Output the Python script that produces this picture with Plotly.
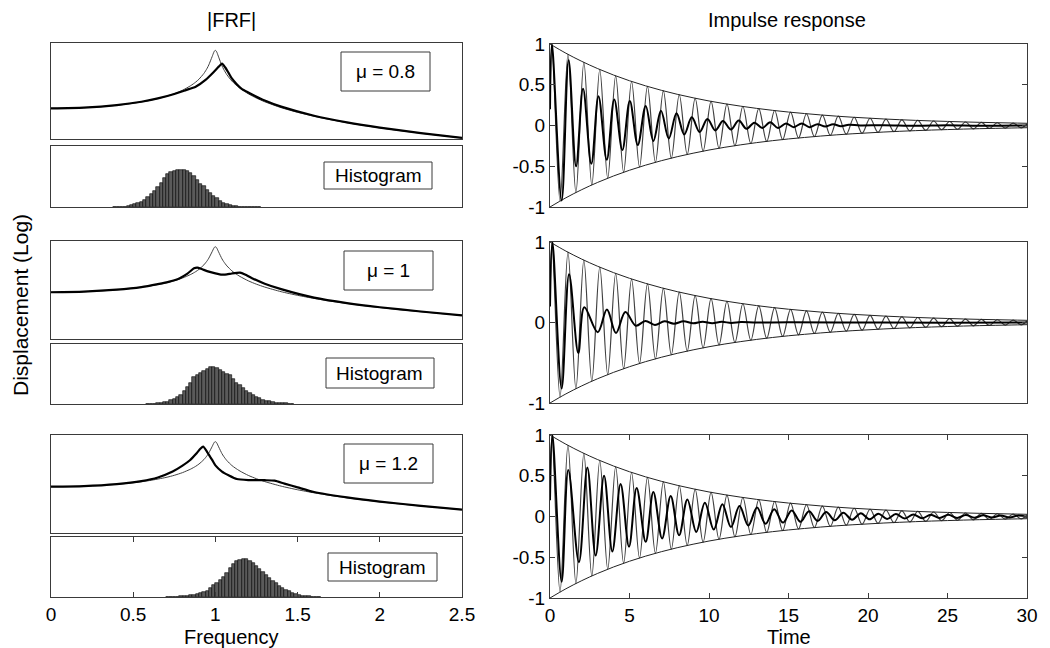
import plotly.graph_objects as go

# The page body adds an 8 px margin, so the figure is 8 px smaller and all
# reference pixel positions are shifted by OFF.
OFF = 8
W, H = 1050 - OFF, 648 - OFF

# ---------------- FRF data (log magnitude) ----------------
FRF_F_NOMINAL = [0, 0.1, 0.2, 0.3, 0.4, 0.5, 0.6, 0.7, 0.75, 0.8, 0.85, 0.88, 0.9, 0.93, 0.95, 0.96,
                 0.98, 0.99, 0.995, 1.0, 1.005, 1.01, 1.02, 1.04, 1.05, 1.07, 1.1, 1.12, 1.15, 1.2,
                 1.25, 1.3, 1.4, 1.5, 1.6, 1.7, 1.8, 1.9, 2.0, 2.1, 2.25, 2.4, 2.5]
FRF_V_NOMINAL = [1.0, 1.01, 1.042, 1.099, 1.19, 1.333, 1.563, 1.96, 2.286, 2.78, 3.60, 4.39, 5.18, 7.16,
                 9.62, 11.6, 18.4, 23.5, 25.6, 26.3, 25.3, 23.1, 17.9, 11.0, 9.09, 6.64, 4.67, 3.9, 3.10,
                 2.27, 1.78, 1.45, 1.04, 0.80, 0.641, 0.529, 0.446, 0.383, 0.333, 0.293, 0.246, 0.21, 0.19]

FRF_F_MU08 = [0, 0.2, 0.4, 0.55, 0.65, 0.75, 0.82, 0.88, 0.94, 0.99, 1.02, 1.04, 1.06, 1.08, 1.1,
              1.13, 1.16, 1.2, 1.3, 1.4, 1.6, 1.8, 2.0, 2.25, 2.5]
FRF_V_MU08 = [1.0, 1.045, 1.2, 1.45, 1.75, 2.25, 2.8, 3.4, 5.0, 7.8, 10.5, 12.4, 10.0, 7.4, 5.4,
              3.9, 3.0, 2.45, 1.55, 1.1, 0.66, 0.455, 0.338, 0.248, 0.19]

FRF_F_MU10 = [0, 0.2, 0.4, 0.55, 0.65, 0.72, 0.78, 0.83, 0.87, 0.89, 0.92, 0.96, 1.0, 1.04, 1.07,
              1.1, 1.15, 1.18, 1.22, 1.3, 1.4, 1.6, 1.8, 2.0, 2.25, 2.5]
FRF_V_MU10 = [1.0, 1.045, 1.2, 1.45, 1.8, 2.15, 2.7, 3.8, 5.6, 5.9, 5.2, 4.4, 3.9, 3.55, 3.6,
              3.85, 4.1, 3.6, 2.8, 1.85, 1.25, 0.68, 0.46, 0.34, 0.25, 0.19]

FRF_F_MU12 = [0, 0.2, 0.4, 0.55, 0.65, 0.74, 0.8, 0.845, 0.88, 0.91, 0.925, 0.95, 0.98, 1.0, 1.04,
              1.08, 1.13, 1.2, 1.3, 1.36, 1.42, 1.5, 1.6, 1.8, 2.0, 2.25, 2.5]
FRF_V_MU12 = [1.0, 1.045, 1.21, 1.5, 1.95, 3.0, 4.6, 6.8, 10.5, 16.0, 18.5, 12.4, 7.0, 4.7, 3.0,
              2.3, 1.75, 1.62, 1.6, 1.55, 1.25, 0.95, 0.68, 0.46, 0.34, 0.25, 0.19]

# ---------------- Histogram data (bin centres, counts) ----------------
HIST1_X = [0.39, 0.41, 0.43, 0.45, 0.47, 0.49, 0.51, 0.53, 0.55, 0.57, 0.59, 0.61, 0.63, 0.65, 0.67,
           0.69, 0.71, 0.73, 0.75, 0.77, 0.79, 0.81, 0.83, 0.85, 0.87, 0.89, 0.91, 0.93, 0.95, 0.97,
           0.99, 1.01, 1.03, 1.05, 1.07, 1.09, 1.11, 1.13, 1.15, 1.17, 1.19, 1.21, 1.23, 1.25, 1.27]
HIST1_Y = [1, 0.5, 1, 1, 3, 5, 8, 12, 16, 22, 30, 38, 48, 60, 72,
           88, 98, 104, 107, 110, 110, 110, 108, 102, 92, 82, 70, 62, 52, 42,
           34, 26, 18, 12, 8, 5, 3, 2, 1, 1, 1, 1, 1, 1, 1]

HIST2_X = [0.59, 0.61, 0.63, 0.65, 0.67, 0.69, 0.71, 0.73, 0.75, 0.77, 0.79, 0.81, 0.83, 0.85, 0.87,
           0.89, 0.91, 0.93, 0.95, 0.97, 0.99, 1.01, 1.03, 1.05, 1.07, 1.09, 1.11, 1.13, 1.15, 1.17,
           1.19, 1.21, 1.23, 1.25, 1.27, 1.29, 1.31, 1.33, 1.35, 1.37, 1.39, 1.41, 1.43, 1.45, 1.47]
HIST2_Y = [1, 1, 1, 2, 3, 5, 7, 11, 15, 21, 27, 40, 52, 64, 80,
           88, 93, 101, 106, 113, 111, 109, 104, 98, 92, 88, 76, 64, 58, 47,
           40, 32, 26, 21, 17, 13, 10, 8, 6, 4, 3, 2, 2, 1, 1]

HIST3_X = [0.71, 0.73, 0.75, 0.77, 0.79, 0.81, 0.83, 0.85, 0.87, 0.89, 0.91, 0.93, 0.95, 0.97, 0.99,
           1.01, 1.03, 1.05, 1.07, 1.09, 1.11, 1.13, 1.15, 1.17, 1.19, 1.21, 1.23, 1.25, 1.27, 1.29,
           1.31, 1.33, 1.35, 1.37, 1.39, 1.41, 1.43, 1.45, 1.47, 1.49, 1.51, 1.53, 1.55, 1.57, 1.59,
           1.61, 1.63]
HIST3_Y = [1, 1, 1, 1, 2, 3, 4, 6, 7, 9, 11, 14, 19, 27, 36,
           44, 51, 60, 72, 88, 102, 110, 114, 117, 116, 111, 105, 94, 84, 76,
           67, 58, 50, 42, 34, 28, 22, 17, 12, 9, 6, 4, 3, 2, 1,
           1, 1]

# ---------------- Impulse response data ----------------
IMP_T_NOMINAL = [0, 0.13, 0.63, 1.13, 1.63, 2.13, 2.63, 3.13, 3.63, 4.13, 4.63, 5.13, 5.63, 6.13, 6.63,
                 7.13, 7.63, 8.13, 8.63, 9.13, 9.63, 10.13, 10.63, 11.13, 11.63, 12.13, 12.63, 13.13,
                 13.63, 14.13, 14.63, 15.13, 15.63, 16.13, 16.63, 17.13, 17.63, 18.13, 18.63, 19.13,
                 19.63, 20.13, 20.63, 21.13, 21.63, 22.13, 22.63, 23.13, 23.63, 24.13, 24.63, 25.13,
                 25.63, 26.13, 26.63, 27.13, 27.63, 28.13, 28.63, 29.13, 29.63, 30]
IMP_V_NOMINAL = [0.3, 0.984, -0.927, 0.873, -0.822, 0.774, -0.729, 0.687, -0.647, 0.609, -0.574,
                 0.540, -0.509, 0.479, -0.451, 0.425, -0.400, 0.377, -0.355, 0.334, -0.315, 0.297,
                 -0.279, 0.263, -0.248, 0.233, -0.220, 0.207, -0.195, 0.184, -0.173, 0.163, -0.153,
                 0.144, -0.136, 0.128, -0.121, 0.114, -0.107, 0.101, -0.095, 0.089, -0.084, 0.079,
                 -0.075, 0.070, -0.066, 0.062, -0.059, 0.055, -0.052, 0.049, -0.046, 0.043, -0.041,
                 0.039, -0.036, 0.034, -0.032, 0.030, -0.029, 0.02]

ENV_T = list(range(0, 31))
ENV_V = [1.0, 0.887, 0.787, 0.698, 0.619, 0.549, 0.487, 0.432, 0.383, 0.340, 0.301, 0.267, 0.237,
         0.210, 0.186, 0.165, 0.147, 0.130, 0.115, 0.102, 0.091, 0.080, 0.071, 0.063, 0.056, 0.050,
         0.044, 0.039, 0.035, 0.031, 0.027]

IMP_T_MU08 = [0, 0.12, 0.73, 1.17, 1.64, 2.08, 2.6, 3.05, 3.57, 4.04, 4.55, 5.02, 5.52, 6.02, 6.5,
              6.98, 7.47, 7.96, 8.44, 8.92, 9.41, 9.9, 10.4, 10.88, 11.38, 11.87, 12.36, 12.85, 13.35,
              13.85, 14.34, 14.84, 15.33, 15.83, 16.32, 16.82, 17.31, 17.81, 18.3, 18.8, 19.5, 21, 23,
              25, 27, 30]
IMP_V_MU08 = [0.2, 1.0, -0.92, 0.8, -0.5, 0.45, -0.47, 0.36, -0.42, 0.32, -0.3, 0.3, -0.24, 0.24,
              -0.19, 0.18, -0.16, 0.15, -0.11, 0.1, -0.08, 0.08, -0.06, 0.055, -0.05, 0.06, -0.04,
              0.035, -0.03, 0.04, -0.03, 0.025, -0.02, 0.025, -0.02, 0.015, -0.012, 0.015, -0.01,
              0.01, 0.0, 0.004, -0.004, 0.003, -0.003, 0.0]

IMP_T_MU10 = [0, 0.15, 0.73, 1.2, 1.78, 2.16, 3.0, 3.58, 4.15, 4.74, 5.4, 6.0, 6.6, 7.2, 7.8, 8.4,
              9.0, 9.6, 10.2, 10.8, 11.4, 12.0, 13.0, 15.0, 20.0, 25.0, 30.0]
IMP_V_MU10 = [0.2, 1.0, -0.82, 0.6, -0.38, 0.19, -0.12, 0.16, -0.13, 0.13, -0.04, 0.02, -0.03,
              0.015, -0.015, 0.015, -0.01, 0.01, -0.008, 0.008, -0.005, 0.005, 0.0, 0.003, 0.0,
              -0.002, 0.0]

IMP_T_MU12 = [0, 0.15, 0.73, 1.15, 1.82, 2.35, 2.87, 3.4, 3.92, 4.44, 4.97, 5.45, 6.02, 6.5, 7.05,
              7.59, 8.12, 8.64, 9.2, 9.74, 10.3, 10.84, 11.38, 11.92, 12.47, 13.02, 13.56, 14.1,
              14.65, 15.2, 15.75, 16.29, 16.83, 17.37, 17.91, 18.45, 19.0, 19.55, 20.1, 20.65, 21.2,
              21.75, 22.3, 22.85, 23.4, 23.95, 24.5, 25.05, 25.6, 26.15, 26.7, 27.25, 27.8, 28.35,
              28.9, 29.45, 30]
IMP_V_MU12 = [0.2, 1.0, -0.8, 0.57, -0.56, 0.6, -0.48, 0.5, -0.43, 0.4, -0.37, 0.35, -0.31, 0.3,
              -0.27, 0.25, -0.23, 0.21, -0.19, 0.17, -0.16, 0.15, -0.13, 0.13, -0.11, 0.11, -0.09,
              0.09, -0.075, 0.075, -0.065, 0.065, -0.055, 0.055, -0.047, 0.045, -0.04, 0.04, -0.035,
              0.035, -0.03, 0.03, -0.026, 0.025, -0.022, 0.022, -0.019, 0.02, -0.017, 0.017, -0.015,
              0.015, -0.013, 0.013, -0.012, 0.012, -0.005]

MU_LABELS = ["\u03bc = 0.8", "\u03bc = 1", "\u03bc = 1.2"]
FREQ_TICKS = [0, 0.5, 1, 1.5, 2, 2.5]
FREQ_TICKTEXT = ["0", "0.5", "1", "1.5", "2", "2.5"]
TIME_TICKS = [0, 5, 10, 15, 20, 25, 30]
TIME_TICKTEXT = ["0", "5", "10", "15", "20", "25", "30"]

# ---------------- layout helpers ----------------
FONT = "Liberation Sans, Arial, sans-serif"
BOX = "#3a3a3a"
THIN = "#404040"


def px(x):
    return (x - OFF) / W


def py(y):
    return 1 - (y - OFF) / H


def ydom(top, bottom):
    return [py(bottom), py(top)]


LEFT_X = [px(51), px(462)]
RIGHT_X = [px(550), px(1027)]

fig = go.Figure()

frf_sets = [(FRF_F_MU08, FRF_V_MU08), (FRF_F_MU10, FRF_V_MU10), (FRF_F_MU12, FRF_V_MU12)]
hist_sets = [(HIST1_X, HIST1_Y), (HIST2_X, HIST2_Y), (HIST3_X, HIST3_Y)]
imp_sets = [(IMP_T_MU08, IMP_V_MU08), (IMP_T_MU10, IMP_V_MU10), (IMP_T_MU12, IMP_V_MU12)]

for i in range(3):
    fx = "x" if i == 0 else f"x{2 * i + 1}"
    fy = "y" if i == 0 else f"y{2 * i + 1}"
    hx, hy = f"x{2 * i + 2}", f"y{2 * i + 2}"
    fig.add_trace(go.Scatter(x=FRF_F_NOMINAL, y=FRF_V_NOMINAL, mode="lines",
                             line=dict(color=THIN, width=1, shape="spline", smoothing=0.6),
                             xaxis=fx, yaxis=fy, showlegend=False))
    fig.add_trace(go.Scatter(x=frf_sets[i][0], y=frf_sets[i][1], mode="lines",
                             line=dict(color="black", width=2.2, shape="spline", smoothing=0.6),
                             xaxis=fx, yaxis=fy, showlegend=False))
    fig.add_trace(go.Bar(x=hist_sets[i][0], y=hist_sets[i][1], width=0.02,
                         marker=dict(color="#5a5a5a", line=dict(color="black", width=0.6)),
                         xaxis=hx, yaxis=hy, showlegend=False))

for i in range(3):
    ix, iy = f"x{7 + i}", f"y{7 + i}"
    fig.add_trace(go.Scatter(x=IMP_T_NOMINAL, y=IMP_V_NOMINAL, mode="lines",
                             line=dict(color=THIN, width=1.2, shape="spline", smoothing=1.0),
                             xaxis=ix, yaxis=iy, showlegend=False))
    fig.add_trace(go.Scatter(x=ENV_T, y=ENV_V, mode="lines",
                             line=dict(color="#222", width=1, shape="spline"),
                             xaxis=ix, yaxis=iy, showlegend=False))
    fig.add_trace(go.Scatter(x=ENV_T, y=[-v for v in ENV_V], mode="lines",
                             line=dict(color="#222", width=1, shape="spline"),
                             xaxis=ix, yaxis=iy, showlegend=False))
    fig.add_trace(go.Scatter(x=imp_sets[i][0], y=imp_sets[i][1], mode="lines",
                             line=dict(color="black", width=2.0, shape="spline", smoothing=1.0),
                             xaxis=ix, yaxis=iy, showlegend=False))

axis_common = dict(showline=True, linecolor=BOX, linewidth=1, mirror=True, showgrid=False,
                   zeroline=False, automargin=False,
                   tickfont=dict(family=FONT, size=19, color="black"))

frf_doms = [ydom(43, 139), ydom(241, 339), ydom(435, 533)]
hist_doms = [ydom(146, 207), ydom(344, 404), ydom(537, 597)]
frf_ranges = [[-0.75, 1.6], [-1.46, 1.6], [-1.46, 1.63]]
hist_tops = [183, 181, 183]
imp_doms = [ydom(44, 207), ydom(242, 403), ydom(435, 598)]

layout = dict(width=W, height=H, margin=dict(l=0, r=0, t=0, b=0, pad=0, autoexpand=False),
              autosize=False, plot_bgcolor="white", paper_bgcolor="white", bargap=0,
              font=dict(family=FONT, color="black"))

for i in range(3):
    fxn = "xaxis" if i == 0 else f"xaxis{2 * i + 1}"
    fyn = "yaxis" if i == 0 else f"yaxis{2 * i + 1}"
    hxn, hyn = f"xaxis{2 * i + 2}", f"yaxis{2 * i + 2}"
    fya = "y" if i == 0 else f"y{2 * i + 1}"
    fxa = "x" if i == 0 else f"x{2 * i + 1}"
    layout[fxn] = dict(axis_common, domain=LEFT_X, range=[0, 2.5], anchor=fya,
                       showticklabels=False, ticks="")
    layout[fyn] = dict(axis_common, domain=frf_doms[i], type="log", range=frf_ranges[i],
                       anchor=fxa, showticklabels=False, ticks="")
    last = (i == 2)
    layout[hxn] = dict(axis_common, domain=LEFT_X, range=[0, 2.5], anchor=f"y{2 * i + 2}",
                       showticklabels=last, ticks="inside" if last else "", ticklen=5,
                       tickcolor=BOX, mirror="ticks" if last else True,
                       tickvals=FREQ_TICKS, ticktext=FREQ_TICKTEXT)
    layout[hyn] = dict(axis_common, domain=hist_doms[i], range=[0, hist_tops[i]],
                       anchor=f"x{2 * i + 2}", showticklabels=False, ticks="")

for i in range(3):
    last = (i == 2)
    yt = [-1, 0, 1] if i == 1 else [-1, -0.5, 0, 0.5, 1]
    ytt = ["-1", "0", "1"] if i == 1 else ["-1", "-0.5", "0", "0.5", "1"]
    layout[f"xaxis{7 + i}"] = dict(axis_common, domain=RIGHT_X, range=[0, 30], anchor=f"y{7 + i}",
                                   showticklabels=last, ticks="inside" if last else "",
                                   ticklen=5, tickcolor=BOX, mirror="ticks" if last else True,
                                   tickvals=TIME_TICKS, ticktext=TIME_TICKTEXT)
    layout[f"yaxis{7 + i}"] = dict(axis_common, domain=imp_doms[i], range=[-1, 1],
                                   anchor=f"x{7 + i}", ticks="inside", ticklen=5, tickcolor=BOX,
                                   mirror="ticks", tickvals=yt, ticktext=ytt)

fig.update_layout(**layout)

annotations = []
shapes = []


def boxed(label, x0, y0, x1, y1, size):
    shapes.append(dict(type="rect", xref="paper", yref="paper", x0=px(x0), x1=px(x1),
                       y0=py(y1), y1=py(y0), line=dict(color=BOX, width=1),
                       fillcolor="white", layer="above"))
    annotations.append(dict(text=label, xref="paper", yref="paper", x=px((x0 + x1) / 2),
                            y=py((y0 + y1) / 2), showarrow=False, xanchor="center",
                            yanchor="middle", font=dict(family=FONT, size=size, color="black")))


mu_boxes = [(341, 52, 430, 91), (344, 251, 433, 290), (344, 444, 433, 483)]
hist_boxes = [(324, 162, 432, 189), (326, 358, 434, 388), (328, 553, 437, 581)]
for i in range(3):
    boxed(MU_LABELS[i], *mu_boxes[i], 19)
    boxed("Histogram", *hist_boxes[i], 19)

for text, x, y, ang, sz in [("|FRF|", 231, 20, 0, 20), ("Impulse response", 787, 20, 0, 20),
                            ("Frequency", 231, 637, 0, 20), ("Time", 789, 637, 0, 20),
                            ("Displacement (Log)", 20, 305, -90, 21)]:
    annotations.append(dict(text=text, xref="paper", yref="paper", x=px(x), y=py(y),
                            showarrow=False, xanchor="center", yanchor="middle", textangle=ang,
                            font=dict(family=FONT, size=sz, color="black")))

fig.update_layout(annotations=annotations, shapes=shapes)
fig.write_html("out.html")
